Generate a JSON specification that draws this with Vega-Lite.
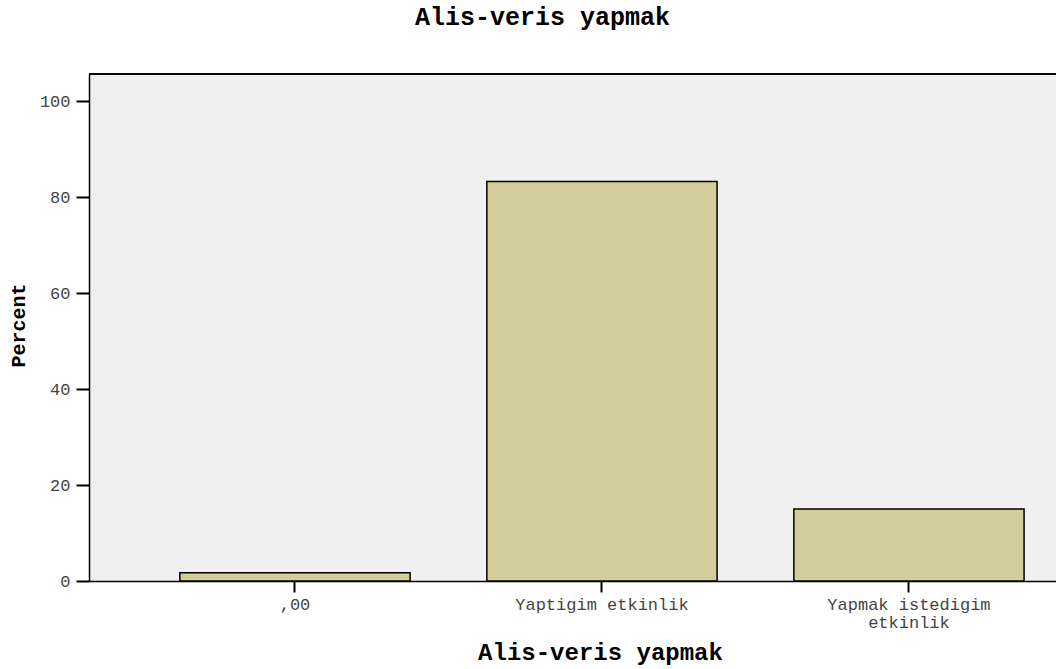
{
  "$schema": "https://vega.github.io/schema/vega-lite/v6.json",
  "width": 967,
  "height": 507,
  "autosize": {"type": "none"},
  "padding": {"left": 89, "top": 74, "right": 0, "bottom": 88},
  "background": "white",
  "title": {
    "text": "Alis-veris yapmak",
    "font": "Liberation Mono",
    "fontSize": 25,
    "fontWeight": "bold",
    "color": "black",
    "anchor": "middle",
    "frame": "group",
    "dx": -30,
    "offset": 43
  },
  "data": {
    "values": [
      {"category": ",00", "percent": 1.7},
      {"category": "Yaptigim etkinlik", "percent": 83.3},
      {"category": "Yapmak istedigim etkinlik", "percent": 15.0}
    ]
  },
  "config": {
    "view": {"fill": "#f0f0f0", "stroke": null},
    "axis": {"grid": false}
  },
  "layer": [
    {
      "mark": {"type": "bar", "fill": "#d3cd99", "stroke": "black", "strokeWidth": 1.5},
      "encoding": {
        "x": {
          "field": "category",
          "type": "nominal",
          "sort": null,
          "scale": {"paddingInner": 0.25, "paddingOuter": 0.2, "align": 0.74},
          "axis": {
            "title": "Alis-veris yapmak",
            "titleFont": "Liberation Mono",
            "titleFontSize": 24,
            "titleFontWeight": "bold",
            "titleColor": "black",
            "titleX": 511,
            "titleY": 78,
            "titleBaseline": "alphabetic",
            "labelAngle": 0,
            "labelFont": "Liberation Mono",
            "labelFontSize": 17,
            "labelColor": "#444444",
            "labelPadding": 4,
            "labelLimit": 0,
            "labelLineHeight": 18,
            "labelExpr": "datum.label == 'Yapmak istedigim etkinlik' ? ['Yapmak istedigim', 'etkinlik'] : datum.label",
            "domainColor": "black",
            "domainWidth": 1.5,
            "tickColor": "black",
            "tickWidth": 2,
            "tickSize": 11
          }
        },
        "y": {
          "field": "percent",
          "type": "quantitative",
          "scale": {"domain": [0, 105.7], "nice": false},
          "axis": {
            "title": "Percent",
            "titleFont": "Liberation Mono",
            "titleFontSize": 20,
            "titleFontWeight": "bold",
            "titleColor": "black",
            "titleX": -71,
            "titleY": 251,
            "titleAlign": "center",
            "titleBaseline": "middle",
            "values": [0, 20, 40, 60, 80, 100],
            "labelFont": "Liberation Mono",
            "labelFontSize": 17,
            "labelColor": "#444444",
            "labelPadding": 6,
            "domainColor": "black",
            "domainWidth": 1.5,
            "tickColor": "black",
            "tickWidth": 2,
            "tickSize": 13
          }
        }
      }
    },
    {
      "mark": {"type": "rule", "stroke": "black", "strokeWidth": 1.5},
      "encoding": {
        "y": {"datum": 105.7, "type": "quantitative"}
      }
    }
  ]
}
